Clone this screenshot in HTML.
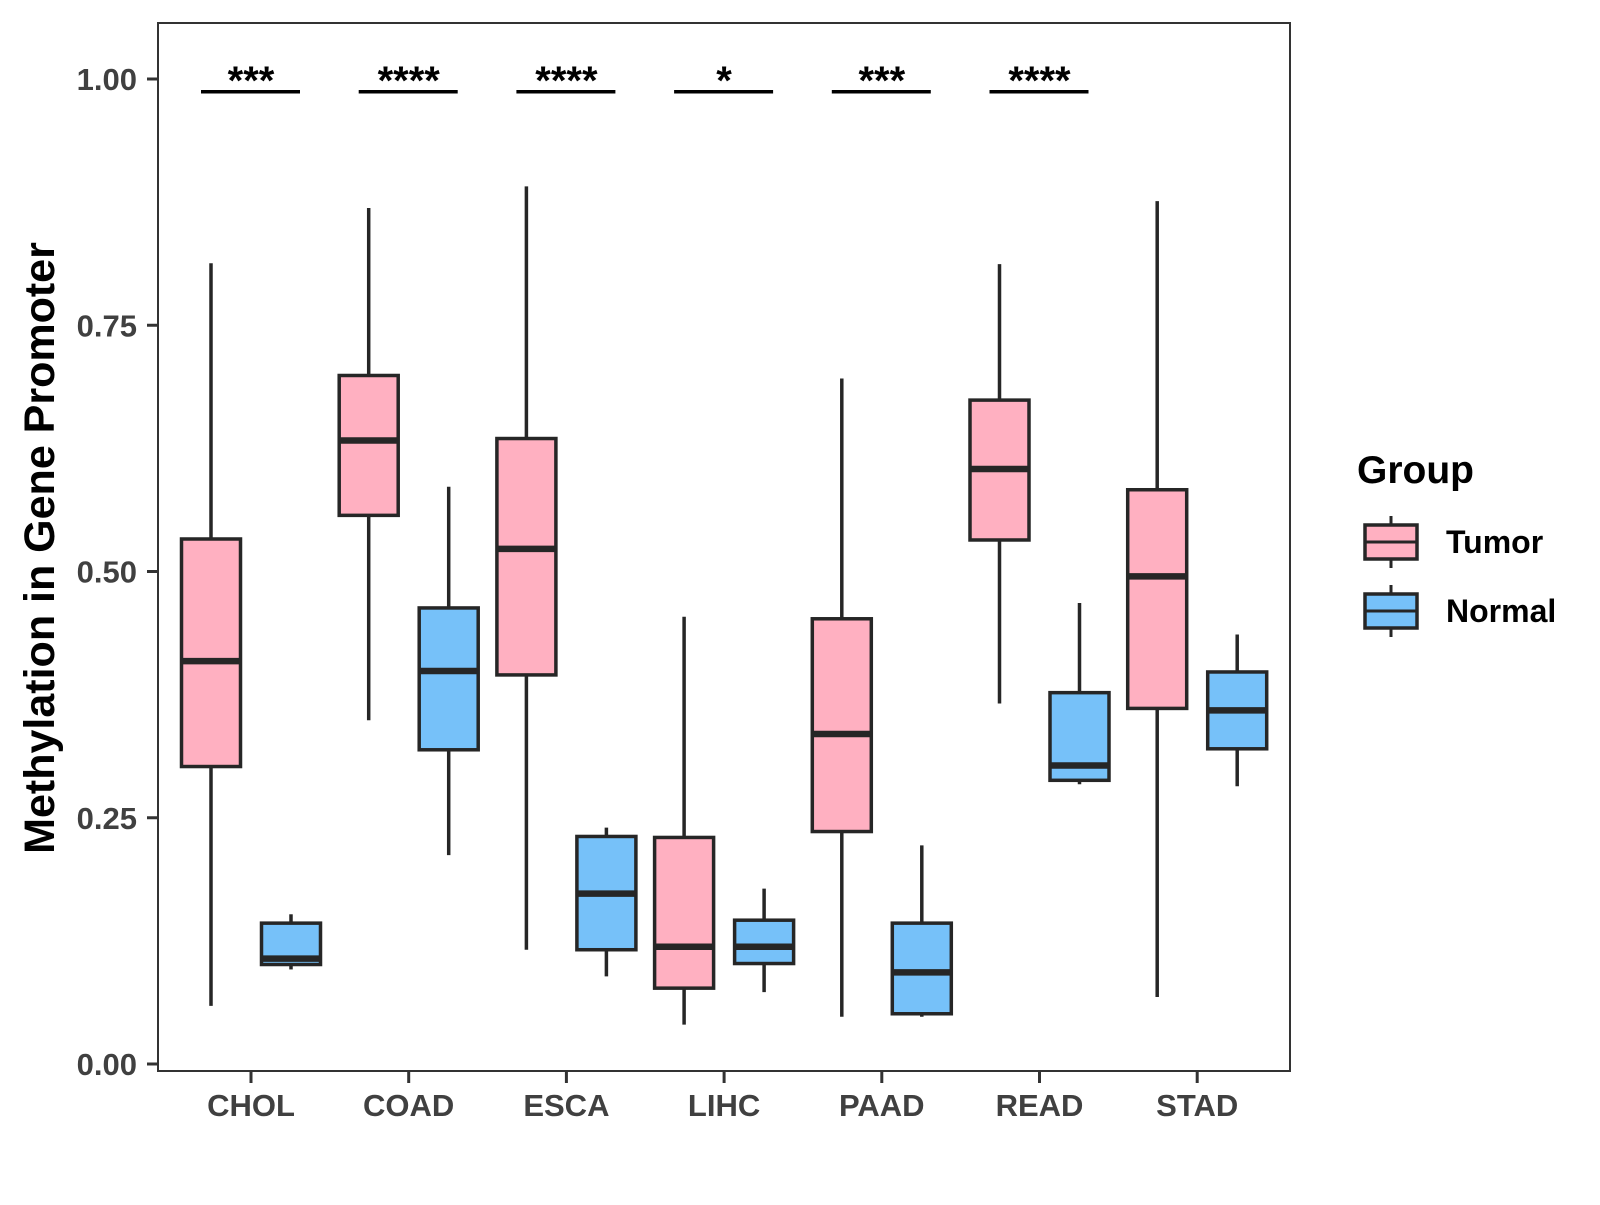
<!DOCTYPE html>
<html><head><meta charset="utf-8"><style>
html,body{margin:0;padding:0;background:#fff;}
svg text{font-family:"Liberation Sans",Arial,sans-serif;font-weight:bold;}
</style></head><body>
<svg id="chart" width="1600" height="1200" viewBox="0 0 1600 1200" xmlns="http://www.w3.org/2000/svg">
<rect width="1600" height="1200" fill="#fff"/>
<g id="marks"></g>
<rect x="158" y="23" width="1132" height="1048" fill="none" stroke="#333" stroke-width="2"/>
<text transform="translate(54,548) rotate(-90)" text-anchor="middle" font-size="43" fill="#000">Methylation in Gene Promoter</text>
<g>
<text x="1357" y="483" font-size="39" fill="#000">Group</text>
</g>
</svg>
<script>
const categories = ["CHOL","COAD","ESCA","LIHC","PAAD","READ","STAD"];
const groups = ["Tumor","Normal"];
// [whiskerLow, Q1, median, Q3, whiskerHigh]
const tumorStats = [
 [0.059,0.302,0.409,0.533,0.813],
 [0.349,0.557,0.633,0.699,0.869],
 [0.116,0.395,0.523,0.635,0.891],
 [0.040,0.077,0.119,0.230,0.454],
 [0.048,0.236,0.335,0.452,0.696],
 [0.366,0.532,0.604,0.674,0.812],
 [0.068,0.361,0.495,0.583,0.876]
];
const normalStats = [
 [0.096,0.101,0.107,0.143,0.152],
 [0.212,0.319,0.399,0.463,0.586],
 [0.089,0.116,0.173,0.231,0.240],
 [0.073,0.102,0.119,0.146,0.178],
 [0.048,0.051,0.093,0.143,0.222],
 [0.284,0.288,0.303,0.377,0.468],
 [0.282,0.320,0.359,0.398,0.436]
];
const yTicks = [0, 0.25, 0.5, 0.75, 1.0];
const yTickLabels = ["0.00","0.25","0.50","0.75","1.00"];
const sigLabels = ["***","****","****","*","***","****"];
const sigLevel = 0.987;

const NS = "http://www.w3.org/2000/svg";
const svg = document.getElementById("chart");
const marks = document.getElementById("marks");
const yScale = v => 1064 - 985 * v;
const xScale = i => 251 + i * 157.7;
const groupOffset = [-40, 40];
const fills = ["#FFB0C1", "#76C1F9"];
const BW = 59;
function mk(tag, attrs, parent) {
  const e = document.createElementNS(NS, tag);
  for (const k in attrs) e.setAttribute(k, attrs[k]);
  (parent || marks).appendChild(e);
  return e;
}
yTicks.forEach((t, i) => {
  const y = yScale(t);
  const tk = mk("line", {x1: 147, x2: 158, y1: y, y2: y, stroke: "#333", "stroke-width": 3}, svg);
  
  
  const tx = mk("text", {x: 137, y: y + 11, "text-anchor": "end", "font-size": 31, fill: "#404040"}, svg);
  tx.textContent = yTickLabels[i];
  
  
});
categories.forEach((c, i) => {
  const x = xScale(i);
  const tk = mk("line", {x1: x, x2: x, y1: 1071, y2: 1083, stroke: "#333", "stroke-width": 3}, svg);
  
  
  const tx = mk("text", {x: x, y: 1116, "text-anchor": "middle", "font-size": 31, fill: "#404040"}, svg);
  tx.textContent = c;
  
  
});
function drawBox(s, cx, fill, name) {
  const g = mk("g", {});
  
  
  mk("line", {x1: cx, x2: cx, y1: yScale(s[0]), y2: yScale(s[4]), stroke: "#262626", "stroke-width": 3.5}, g);
  mk("rect", {x: cx - BW/2, y: yScale(s[3]), width: BW, height: yScale(s[1]) - yScale(s[3]), fill: fill, stroke: "#262626", "stroke-width": 3.5}, g);
  mk("line", {x1: cx - BW/2, x2: cx + BW/2, y1: yScale(s[2]), y2: yScale(s[2]), stroke: "#262626", "stroke-width": 6.5}, g);
}
categories.forEach((c, i) => {
  drawBox(tumorStats[i], xScale(i) + groupOffset[0], fills[0], "box-tumor-" + c.toLowerCase());
  drawBox(normalStats[i], xScale(i) + groupOffset[1], fills[1], "box-normal-" + c.toLowerCase());
});
sigLabels.forEach((s, i) => {
  const x = xScale(i), y = yScale(sigLevel);
  const ln = mk("line", {x1: x - 50, x2: x + 49, y1: y, y2: y, stroke: "#000", "stroke-width": 3.5});
  
  
  const tx = mk("text", {x: x, y: y + 2, "text-anchor": "middle", "font-size": 40, fill: "#000"});
  tx.textContent = s;
  
  
});
const legendY = [542, 611];
groups.forEach((gname, i) => {
  const g = mk("g", {}, svg);
  
  
  const cy = legendY[i], cx = 1391;
  mk("line", {x1: cx, x2: cx, y1: cy - 26, y2: cy + 26, stroke: "#262626", "stroke-width": 3}, g);
  mk("rect", {x: cx - 26, y: cy - 17, width: 52, height: 34, fill: fills[i], stroke: "#262626", "stroke-width": 3.5}, g);
  mk("line", {x1: cx - 26, x2: cx + 26, y1: cy, y2: cy, stroke: "#262626", "stroke-width": 3}, g);
  const tx = mk("text", {x: 1446, y: cy + 11, "font-size": 32, fill: "#000"}, g);
  tx.textContent = gname;
});
</script>
</body></html>
